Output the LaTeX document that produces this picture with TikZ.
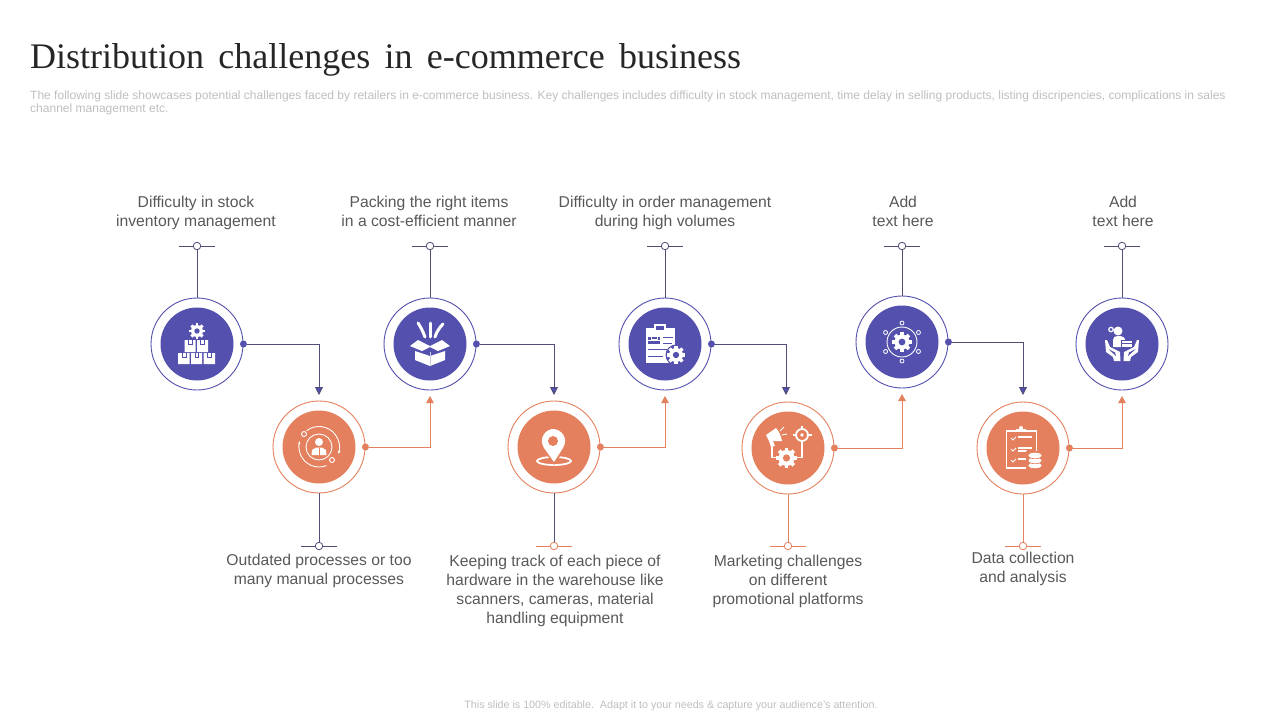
\documentclass[tikz,border=0pt]{standalone}
\usepackage{fontspec}
\setmainfont{Liberation Sans}
\newfontfamily\titlefont{Liberation Serif}
\usepackage{xcolor}
\usetikzlibrary{arrows.meta}
\definecolor{planblue}{HTML}{5350AE}
\definecolor{planorange}{HTML}{E4805D}
\definecolor{stemgrey}{HTML}{4F4F78}
\definecolor{labelgrey}{HTML}{585858}
\definecolor{notegrey}{HTML}{BEBEBE}
\tikzset{
    bluering/.style={circle,draw=planblue,line width=0.9pt,fill=white,minimum size=92pt,inner sep=0pt},
    orangering/.style={circle,draw=planorange,line width=0.9pt,fill=white,minimum size=92pt,inner sep=0pt},
    bluedisc/.style={circle,fill=planblue,minimum size=73pt,inner sep=0pt},
    orangedisc/.style={circle,fill=planorange,minimum size=73pt,inner sep=0pt},
    bluedot/.style={circle,fill=planblue,minimum size=7pt,inner sep=0pt},
    orangedot/.style={circle,fill=planorange,minimum size=7pt,inner sep=0pt},
    bluepin/.style={circle,draw=stemgrey,line width=0.8pt,fill=white,minimum size=7.5pt,inner sep=0pt},
    orangepin/.style={circle,draw=planorange,line width=0.8pt,fill=white,minimum size=7.5pt,inner sep=0pt},
    bluelink/.style={draw=stemgrey,line width=0.9pt,-{Triangle[length=8pt,width=8pt,fill=planblue]}},
    orangelink/.style={draw=planorange,line width=0.9pt,-{Triangle[length=7pt,width=7.5pt]}},
    bluestem/.style={draw=stemgrey,line width=0.9pt},
    orangestem/.style={draw=planorange,line width=0.9pt},
    label/.style={text=labelgrey,align=center,inner sep=0pt,font=\fontsize{15.7}{19}\selectfont,
        execute at begin node=\strut,execute at end node=\strut},
    whiteline/.style={draw=white,line width=1.4pt},
}
\newcommand{\gearmark}[4]{
    \foreach \a in {0,45,...,315}
        \fill[white,shift={(#1,#2)},rotate=\a] ({-0.24*#3},0) rectangle ({0.24*#3},{1.3*#3});
    \fill[white] (#1,#2) circle (#3);
    \fill[#4] (#1,#2) circle ({0.45*#3});
}
\begin{document}
\begin{tikzpicture}[x=1pt,y=-1pt]
        \useasboundingbox (0,0) rectangle (1280,720);

        \node[anchor=west,inner sep=0pt,text=black!85] (title) at (30,59.5)
            {\titlefont\fontsize{36}{40}\selectfont\spaceskip=14.25pt Distribution challenges in e-commerce business};
        \node[anchor=north west,inner sep=0pt,text=notegrey,align=left] (intro) at (30,91)
            {\fontsize{12.02}{13.3}\selectfont The following slide showcases potential challenges faced by retailers in e-commerce business. Key challenges includes difficulty in stock management, time delay in selling products, listing discripencies, complications in sales\\[1pt] \fontsize{12.02}{13.3}\selectfont channel management etc.};
        \node[text=notegrey,inner sep=0pt] (footer) at (671,705.5)
            {\fontsize{10.7}{12}\selectfont This slide is 100\% editable.\ \ Adapt it to your needs \& capture your audience's attention.};

        % rings
        \node[bluering] (stock) at (197,344) {};
        \node[bluering] (packing) at (430,344) {};
        \node[bluering] (order) at (665,344) {};
        \node[bluering] (addone) at (902,342) {};
        \node[bluering] (addtwo) at (1122,344) {};
        \node[orangering] (manual) at (319,447) {};
        \node[orangering] (hardware) at (554,447) {};
        \node[orangering] (marketing) at (788,448) {};
        \node[orangering] (data) at (1023,448) {};

        \node[bluedisc] (stockdisc) at (stock) {};
        \node[bluedisc] (packingdisc) at (packing) {};
        \node[bluedisc] (orderdisc) at (order) {};
        \node[bluedisc] (addonedisc) at (addone) {};
        \node[bluedisc] (addtwodisc) at (addtwo) {};
        \node[orangedisc] (manualdisc) at (manual) {};
        \node[orangedisc] (hardwaredisc) at (hardware) {};
        \node[orangedisc] (marketingdisc) at (marketing) {};
        \node[orangedisc] (datadisc) at (data) {};

        % dots on the rings
        \node[bluedot] (stockdot) at (stock.east) {};
        \node[bluedot] (packingdot) at (packing.east) {};
        \node[bluedot] (orderdot) at (order.east) {};
        \node[bluedot] (addonedot) at (addone.east) {};
        \node[orangedot] (manualdot) at (manual.east) {};
        \node[orangedot] (hardwaredot) at (hardware.east) {};
        \node[orangedot] (marketingdot) at (marketing.east) {};
        \node[orangedot] (datadot) at (data.east) {};

        % arrow ends
        \coordinate (manualin) at (319,395);
        \coordinate (hardwarein) at (554,395);
        \coordinate (marketingin) at (786,395);
        \coordinate (datain) at (1023,395);
        \coordinate (packingin) at (430,396);
        \coordinate (orderin) at (665,396);
        \coordinate (addonein) at (902,394);
        \coordinate (addtwoin) at (1122,396);

        \draw[bluelink] (stockdot) -| (manualin);
        \draw[bluelink] (packingdot) -| (hardwarein);
        \draw[bluelink] (orderdot) -| (marketingin);
        \draw[bluelink] (addonedot) -| (datain);
        \draw[orangelink] (manualdot) -| (packingin);
        \draw[orangelink] (hardwaredot) -| (orderin);
        \draw[orangelink] (marketingdot) -| (addonein);
        \draw[orangelink] (datadot) -| (addtwoin);

        % stems
        \node[bluepin] (stockpin) at (197,246) {};
        \node[bluepin] (packingpin) at (430,246) {};
        \node[bluepin] (orderpin) at (665,246) {};
        \node[bluepin] (addonepin) at (902,246) {};
        \node[bluepin] (addtwopin) at (1122,246) {};
        \node[bluepin] (manualpin) at (319,546) {};
        \node[orangepin] (hardwarepin) at (554,546) {};
        \node[orangepin] (marketingpin) at (788,546) {};
        \node[orangepin] (datapin) at (1023,546) {};

        \draw[bluestem] (stockpin) -- (stock);
        \draw[bluestem] (packingpin) -- (packing);
        \draw[bluestem] (orderpin) -- (order);
        \draw[bluestem] (addonepin) -- (addone);
        \draw[bluestem] (addtwopin) -- (addtwo);
        \draw[bluestem] (manualpin) -- (manual);
        \draw[bluestem] (hardwarepin) -- (hardware);
        \draw[orangestem] (marketingpin) -- (marketing);
        \draw[orangestem] (datapin) -- (data);

        \draw[bluestem] (stockpin.west) -- ++(-14,0) (stockpin.east) -- ++(14,0);
        \draw[bluestem] (packingpin.west) -- ++(-14,0) (packingpin.east) -- ++(14,0);
        \draw[bluestem] (orderpin.west) -- ++(-14,0) (orderpin.east) -- ++(14,0);
        \draw[bluestem] (addonepin.west) -- ++(-14,0) (addonepin.east) -- ++(14,0);
        \draw[bluestem] (addtwopin.west) -- ++(-14,0) (addtwopin.east) -- ++(14,0);
        \draw[bluestem] (manualpin.west) -- ++(-14,0) (manualpin.east) -- ++(14,0);
        \draw[orangestem] (hardwarepin.west) -- ++(-14,0) (hardwarepin.east) -- ++(14,0);
        \draw[orangestem] (marketingpin.west) -- ++(-14,0) (marketingpin.east) -- ++(14,0);
        \draw[orangestem] (datapin.west) -- ++(-14,0) (datapin.east) -- ++(14,0);

        % labels
        \node[label] (stocktext) at (196,214.5) {Difficulty in stock\\inventory management};
        \node[label] (packingtext) at (429,214.5) {Packing the right items\\in a cost-efficient manner};
        \node[label] (ordertext) at (665,214.5) {Difficulty in order management\\during high volumes};
        \node[label] (addonetext) at (903,214.5) {Add\\text here};
        \node[label] (addtwotext) at (1123,214.5) {Add\\text here};
        \node[label] (manualtext) at (319,572.5) {Outdated processes or too\\many manual processes};
        \node[label] (hardwaretext) at (555,592.5) {Keeping track of each piece of\\hardware in the warehouse like\\scanners, cameras, material\\handling equipment};
        \node[label] (marketingtext) at (788,583) {Marketing challenges\\on different\\promotional platforms};
        \node[label] (datatext) at (1023,570.5) {Data collection\\and analysis};

        % icon: boxes and gear
        \gearmark{197}{331}{6}{planblue}
        \fill[white] (184.5,340) rectangle (195.5,352) (197,340) rectangle (208,352);
        \fill[white] (178,353) rectangle (189.5,364) (191,353) rectangle (202,364) (203.5,353) rectangle (215,364);
        \draw[planblue,line width=0.6pt] (188,340) -- (188,344) -- (192,344) -- (192,340) (200,340) -- (200,344) -- (204,344) -- (204,340);
        \draw[planblue,line width=0.6pt] (182,353) -- (182,357) -- (186,357) -- (186,353) (195,353) -- (195,357) -- (198,357) -- (198,353) (207,353) -- (207,357) -- (211,357) -- (211,353);

        % icon: open box
        \fill[white] (415,351) -- (430,356) -- (445,351) -- (445,360) -- (430,366) -- (415,360) -- cycle;
        \fill[white] (410,346) -- (418,340) -- (430,346) -- (442,340) -- (450,346) -- (438,351) -- (430,347) -- (422,351) -- cycle;
        \draw[planblue!30,line width=0.8pt] (430,352) -- (430,366);
        \draw[white,line width=3pt,line cap=round] (425,337) .. controls (423,331) and (420,326) .. (418,323);
        \draw[white,line width=3pt,line cap=round] (430,337) -- (430,323);
        \draw[white,line width=3pt,line cap=round] (435,337) .. controls (437,331) and (440,327) .. (443,324);

        % icon: clipboard with gear
        \fill[white] (646,328) rectangle (675,363);
        \draw[white,line width=1.4pt,fill=planblue] (655,325) rectangle (665,331);
        \fill[planblue] (648,337) rectangle (660,344);
        \draw[white,line width=0.7pt] (651,337) -- (651,339) -- (657,339) -- (657,337) (648,340.5) -- (660,340.5);
        \draw[planblue,line width=1pt] (663,337) -- (673,337) (663,343) -- (672,343) (648,349) -- (667,349) (648,356) -- (663,356);
        \fill[planblue] (676,355) circle (10.5);
        \gearmark{676}{355}{7}{planblue}

        % icon: gear network
        \gearmark{902}{342}{7.5}{planblue}
        \draw[white,line width=0.9pt] (902,342) circle (15);
        \foreach \a in {30,90,...,330}
            \draw[white,line width=0.8pt,fill=planblue,shift={(902,342)},rotate=\a] (19,0) circle (2);

        % icon: hands holding a person
        \fill[white] (1118,331) circle (4.5);
        \fill[white] (1113,347) -- (1113,340) .. controls (1113,337) and (1115,336) .. (1118,336) .. controls (1122,336) and (1125,337) .. (1125,340) -- (1125,347) -- cycle;
        \draw[planblue,line width=0.8pt,fill=white] (1121.5,340) rectangle (1132,347.5);
        \draw[planblue,line width=0.6pt] (1121.5,343.5) -- (1132,343.5);
        \draw[white,line width=1.2pt] (1111,329.5) circle (2.2);
        \fill[white] (1105,340) -- (1107,340) -- (1110,347) -- (1120,352) -- (1120.5,361) -- (1114,361) -- (1113,357) -- (1106,352) -- cycle;
        \fill[white] (1139,340) -- (1137,340) -- (1134,347) -- (1124,352) -- (1123.5,361) -- (1130,361) -- (1131,357) -- (1138,352) -- cycle;
        \fill[planblue] (1108.5,349) -- (1115,352.5) -- (1116,356) -- (1111,351.5) -- cycle;
        \fill[planblue] (1135.5,349) -- (1129,352.5) -- (1128,356) -- (1133,351.5) -- cycle;

        % icon: person and orbits
        \draw[white,line width=0.9pt,-{Stealth[length=3.5pt]}] (319,447) ++(233:20.5) arc (233:380:20.5);
        \draw[white,line width=0.9pt,-{Stealth[length=3.5pt]}] (319,447) ++(68:20) arc (68:197:20);
        \draw[white,line width=0.9pt] (319,447) circle (13);
        \fill[white] (319,442) circle (4);
        \fill[white] (311.5,455) -- (312,450) -- (316,447.5) -- (322,447.5) -- (326,450) -- (326.5,455) -- cycle;
        \draw[planorange,line width=0.7pt] (319,448) -- (319,455);
        \draw[white,line width=0.9pt,fill=planorange] (304,434) circle (2.5);
        \draw[white,line width=0.9pt,fill=planorange] (332,460) circle (2.5);

        % icon: map pin
        \draw[white,line width=1.8pt] (554,461) ellipse (17 and 4);
        \fill[planorange] (554,465) -- (543,449) -- (565,449) -- cycle;
        \fill[white] (554,462) -- (544,448) .. controls (538,438) and (546,429) .. (553,429) .. controls (561,429) and (569,438) .. (563,448) -- cycle;
        \fill[planorange] (553,441) circle (5);

        % icon: megaphone, target, gear
        \fill[white] (766,435) -- (776,428) .. controls (779,431) and (781,436) .. (782,441) -- (769,441) -- cycle;
        \fill[white] (769,441) -- (773,441) -- (775,446) -- (771,447) -- cycle;
        \draw[white,line width=0.9pt] (780,431) -- (784,427) (782,435) -- (787,434);
        \draw[white,line width=1.8pt] (802,435) circle (6);
        \draw[white,line width=1.8pt] (802,425.5) -- (802,429) (802,441) -- (802,444.5) (792.5,435) -- (796,435) (808,435) -- (811.5,435);
        \fill[white] (802,435) circle (1.8);
        \draw[whiteline] (772,447) -- (772,457.5) -- (778,457.5) (802,444) -- (802,457.5) -- (796,457.5);
        \gearmark{786.5}{458}{8}{planorange}

        % icon: checklist and database
        \draw[white,line width=1.7pt] (1006.5,431) rectangle (1036.5,468);
        \fill[white] (1016,428.5) rectangle (1026,432);
        \fill[white] (1021,428) circle (2);
        \draw[white,line width=0.9pt] (1011,438) -- (1013,440) -- (1016,437) (1011,449) -- (1013,451) -- (1016,448) (1011,460) -- (1013,462) -- (1016,459);
        \draw[white,line width=1.2pt] (1018,437) -- (1032,437) (1018,448) -- (1032,448) (1018,451) -- (1027,451) (1018,459) -- (1027,459);
        \fill[planorange] (1026,451) rectangle (1043,471);
        \filldraw[fill=white,draw=planorange,line width=0.6pt] (1035,465.5) ellipse (7 and 3.2);
        \filldraw[fill=white,draw=planorange,line width=0.6pt] (1035,460.5) ellipse (7 and 3.2);
        \filldraw[fill=white,draw=planorange,line width=0.6pt] (1035,455.5) ellipse (7 and 3.2);
    \end{tikzpicture}
\end{document}
